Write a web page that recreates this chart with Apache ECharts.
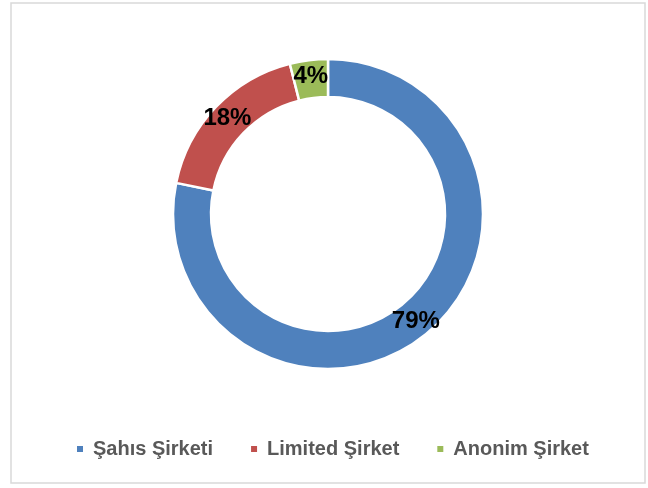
<!DOCTYPE html>
<html><head><meta charset="utf-8">
<script src="https://cdn.jsdelivr.net/npm/echarts@6/dist/echarts.min.js"></script>
<style>html,body{margin:0;padding:0;background:#fff}#c{width:648px;height:488px}</style>
</head><body><div id="c"></div>
<script>
const categories = ['Şahıs Şirketi', 'Limited Şirket', 'Anonim Şirket'];
const values = [79, 18, 4];
const colors = ['#4f81bd', '#c0504d', '#9bbb59'];

const chart = echarts.init(document.getElementById('c'), null, {renderer: 'canvas'});
chart.setOption({
  animation: false,
  backgroundColor: '#fff',
  graphic: [{
    type: 'rect', shape: {x: 11, y: 3, width: 634, height: 480},
    style: {fill: 'none', stroke: '#d9d9d9', lineWidth: 1.5}, silent: true
  }],
  legend: {
    top: 434, left: 70,
    icon: 'rect', itemWidth: 8, itemHeight: 8, itemGap: 36,
    textStyle: {fontFamily: 'Liberation Sans', fontWeight: 'bold', fontSize: 20, color: '#595959', padding: [0, 0, 0, 4]},
    data: categories
  },
  series: [{
    type: 'pie',
    center: [328, 214],
    radius: [117, 155],
    startAngle: 90,
    clockwise: true,
    itemStyle: {borderColor: '#fff', borderWidth: 2.5},
    label: {
      position: 'inside',
      formatter: p => p.value + '%',
      fontFamily: 'Liberation Sans', fontWeight: 'bold', fontSize: 24, color: '#000'
    },
    labelLine: {show: false},
    data: categories.map((n, i) => ({name: n, value: values[i], itemStyle: {color: colors[i]}}))
  }]
});
</script></body></html>
